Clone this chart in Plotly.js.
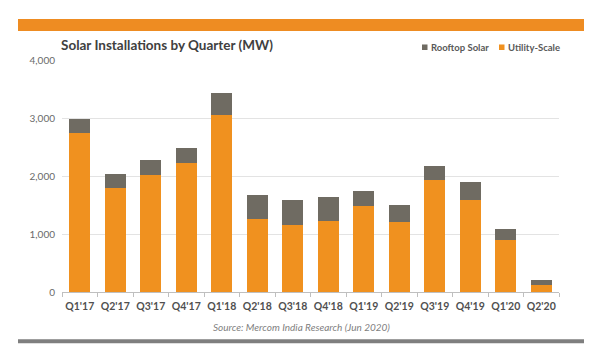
<!DOCTYPE html>
<html>
<head>
<meta charset="utf-8">
<script src="https://cdn.plot.ly/plotly-3.0.1.min.js"></script>
<style>html,body{margin:0;padding:0;background:#fff;}#chart{width:600px;height:360px;}</style>
</head>
<body>
<div id="chart"></div>
<script>
const quarters = ["Q1'17","Q2'17","Q3'17","Q4'17","Q1'18","Q2'18","Q3'18","Q4'18","Q1'19","Q2'19","Q3'19","Q4'19","Q1'20","Q2'20"];
const utilityScale = [2740, 1800, 2015, 2230, 3050, 1255, 1150, 1220, 1480, 1205, 1930, 1585, 895, 115];
const rooftopSolar = [245, 230, 260, 260, 375, 410, 430, 415, 265, 295, 240, 310, 195, 85];
const seriesNames = ['Utility-Scale', 'Rooftop Solar'];
const seriesColors = ['#F0911F', '#6F6B62'];

const L = 62, R = 559, T = 60, B = 291.7;
const px = v => (v - L) / (R - L);
const py = v => (B - v) / (B - T);

const traces = [
  {type:'bar', name:seriesNames[0], x:quarters, y:utilityScale, marker:{color:seriesColors[0]}, hoverinfo:'y'},
  {type:'bar', name:seriesNames[1], x:quarters, y:rooftopSolar, marker:{color:seriesColors[1]}, hoverinfo:'y'}
];

// manual compact legend (Rooftop Solar first, like the reference)
const legendItems = [
  {name:seriesNames[1], color:seriesColors[1], sq:422, tx:429},
  {name:seriesNames[0], color:seriesColors[0], sq:499, tx:506}
];
const legShapes = legendItems.map(it => ({type:'rect', xref:'paper', yref:'paper',
  x0:px(it.sq), x1:px(it.sq+5.5), y0:py(50), y1:py(44.5), fillcolor:it.color, line:{width:0}}));
const legAnn = legendItems.map(it => ({text:'<b>'+it.name+'</b>', xref:'paper', yref:'paper', x:px(it.tx), y:py(47.5),
  xanchor:'left', yanchor:'middle', showarrow:false, font:{size:9.5, color:'#595959', family:'Lato, sans-serif'}}));

const layout = {
  width:600, height:360,
  margin:{l:L, r:600-R, t:T, b:360-B},
  paper_bgcolor:'#fff', plot_bgcolor:'#fff',
  barmode:'stack', bargap:0.4,
  font:{family:'Lato, "Open Sans", sans-serif', color:'#595959', size:10},
  showlegend:false,
  xaxis:{type:'category', showgrid:false, showline:true, linecolor:'#BFBFBF', linewidth:1,
         ticks:'outside', tickson:'boundaries', ticklen:4, tickcolor:'#BFBFBF', tickangle:0, ticklabelstandoff:4,
         tickfont:{size:10.5, color:'#505050', family:'Lato, sans-serif', weight:'bold'}, fixedrange:true},
  yaxis:{range:[0,4000], dtick:1000, tickformat:',', showgrid:true, gridcolor:'#E3E3E3', gridwidth:1,
         zeroline:false, showline:false, ticks:'', ticklabelstandoff:6, tickfont:{size:10, color:'#6A6A6A'}, fixedrange:true},
  annotations:[
    {text:'<b>Solar Installations by Quarter (MW)</b>', xref:'paper', yref:'paper', x:px(59), y:py(45),
     xanchor:'left', yanchor:'middle', showarrow:false, font:{size:13.5, color:'#404040', family:'Lato, sans-serif'}},
    {text:'<i>Source: Mercom India Research (Jun 2020)</i>', xref:'paper', yref:'paper', x:px(301), y:py(327),
     xanchor:'center', yanchor:'middle', showarrow:false, font:{size:10, color:'#7F7F7F', family:'Lato, sans-serif'}}
  ].concat(legAnn),
  shapes:[
    {type:'rect', xref:'paper', yref:'paper', x0:px(18), x1:px(584), y0:py(31), y1:py(19), fillcolor:'#EE8C22', line:{width:0}, layer:'above'},
    {type:'rect', xref:'paper', yref:'paper', x0:px(18), x1:px(584), y0:py(343), y1:py(339), fillcolor:'#7F7F7F', line:{width:0}, layer:'above'}
  ].concat(legShapes)
};

Plotly.newPlot('chart', traces, layout, {displayModeBar:false, staticPlot:true});
</script>
</body>
</html>
